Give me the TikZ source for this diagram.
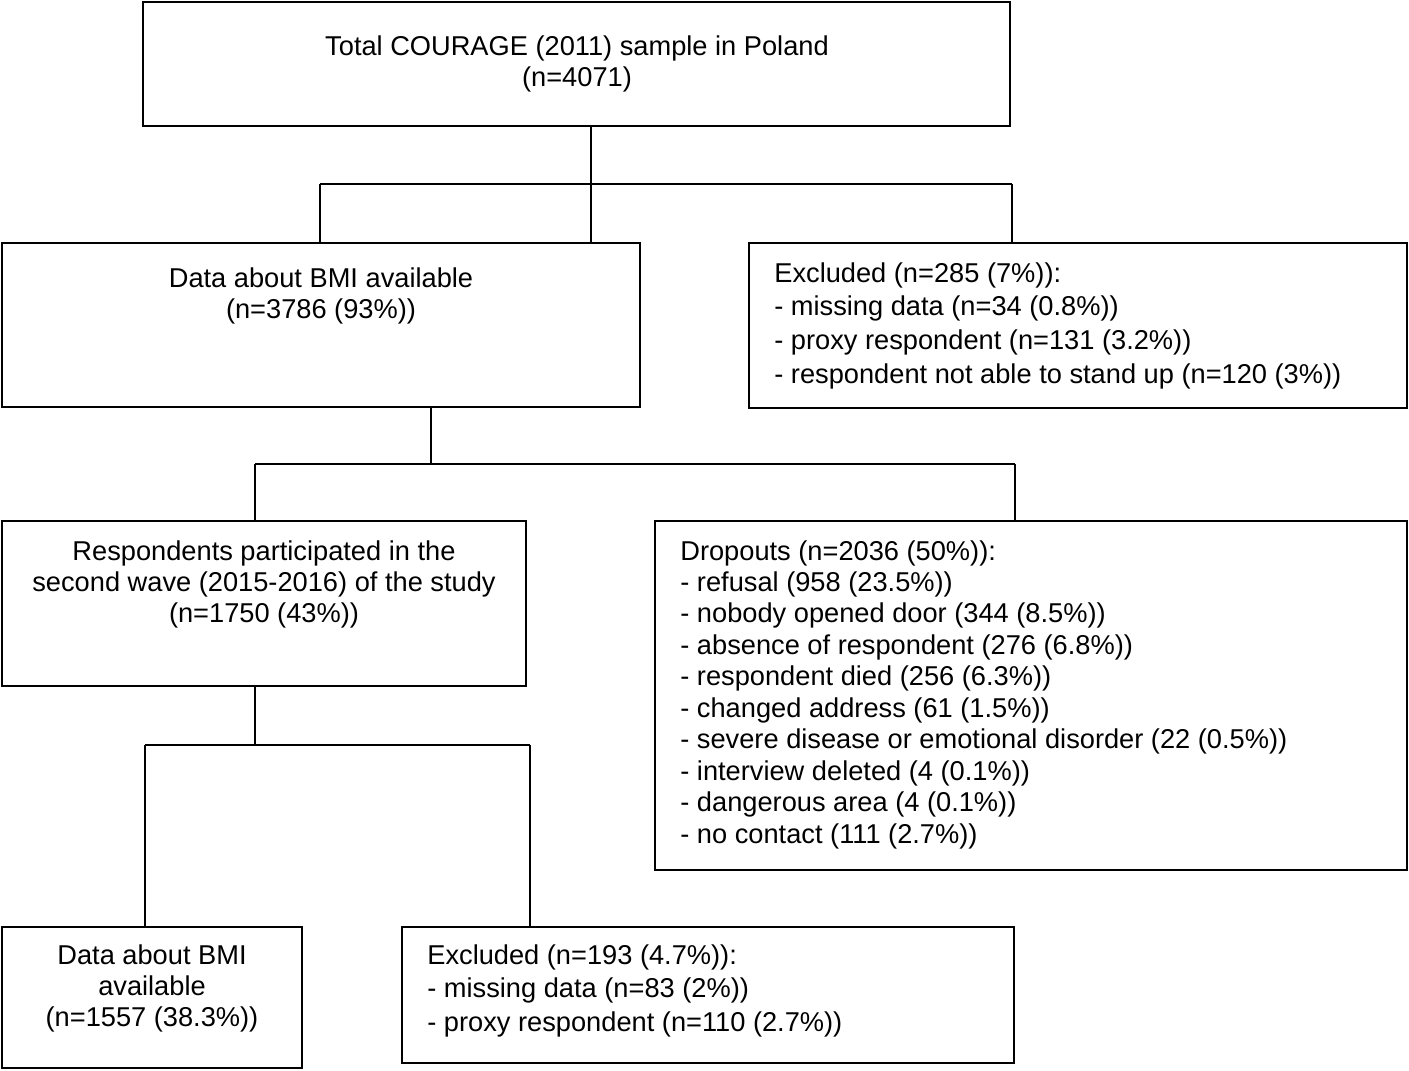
\documentclass[tikz,border=0pt]{standalone}
\usepackage{fontspec}
\setmainfont{Liberation Sans}
\usetikzlibrary{fit}
\begin{document}
\begin{tikzpicture}[x=0.02cm,y=-0.02cm]
\tikzset{
	box/.style={draw, line width=1.6pt, inner sep=0pt},
	txt/.style={inner sep=0pt, anchor=north, align=center,
		font=\fontsize{15.5}{17.9}\selectfont},
	ltxt/.style={txt, anchor=north west, align=left},
	link/.style={line width=1.6pt}
}
\useasboundingbox (0,0) rectangle (1409,1071);
% boxes
\node[box, fit={(143,2) (1010,126)}] (TOTAL) {};
\node[box, fit={(2,243) (640,407)}] (BMIA) {};
\node[box, fit={(749,243) (1407,408)}] (EXCLA) {};
\node[box, fit={(2,521) (526,686)}] (WAVE) {};
\node[box, fit={(655,521) (1407,870)}] (DROP) {};
\node[box, fit={(2,927) (302,1068)}] (BMIB) {};
\node[box, fit={(402,927) (1014,1063)}] (EXCLB) {};
% texts
\node[txt] (TOTALLBL) at (577,35) {Total COURAGE (2011) sample in Poland\\(n=4071)};
\node[txt] (BMIALBL) at (321,267) {Data about BMI available\\(n=3786 (93\%))};
\node[ltxt] (EXCLALBL) at (774,262) {Excluded (n=285 (7\%)):\\[1.3pt]- missing data (n=34 (0.8\%))\\[1.3pt]- proxy respondent (n=131 (3.2\%))\\[1.3pt]- respondent not able to stand up (n=120 (3\%))};
\node[txt] (WAVELBL) at (264,540) {Respondents participated in the\\second wave (2015-2016) of the study\\(n=1750 (43\%))};
\node[ltxt] (DROPLBL) at (680,540) {Dropouts (n=2036 (50\%)):\\- refusal (958 (23.5\%))\\- nobody opened door (344 (8.5\%))\\- absence of respondent (276 (6.8\%))\\- respondent died (256 (6.3\%))\\- changed address (61 (1.5\%))\\- severe disease or emotional disorder (22 (0.5\%))\\- interview deleted (4 (0.1\%))\\- dangerous area (4 (0.1\%))\\- no contact (111 (2.7\%))};
\node[txt] (BMIBLBL) at (152,944) {Data about BMI\\available\\(n=1557 (38.3\%))};
\node[ltxt] (EXCLBLBL) at (427,944) {Excluded (n=193 (4.7\%)):\\[1.3pt]- missing data (n=83 (2\%))\\[1.3pt]- proxy respondent (n=110 (2.7\%))};
% junctions
\coordinate (J1) at (591,184);
\coordinate (J1L) at (320,184);
\coordinate (J1R) at (1012,184);
\coordinate (J2) at (431,464);
\coordinate (J2L) at (255,464);
\coordinate (J2R) at (1015,464);
\coordinate (J3) at (255,745);
\coordinate (J3L) at (145,745);
\coordinate (J3R) at (530,745);
% connectors
\draw[link] (TOTAL.south -| J1) -- (J1 |- BMIA.north);
\draw[link] (J1L) -- (J1R);
\draw[link] (J1L) -- (J1L |- BMIA.north);
\draw[link] (J1R) -- (J1R |- EXCLA.north);
\draw[link] (BMIA.south -| J2) -- (J2);
\draw[link] (J2L) -- (J2R);
\draw[link] (J2L) -- (J2L |- WAVE.north);
\draw[link] (J2R) -- (J2R |- DROP.north);
\draw[link] (WAVE.south -| J3) -- (J3);
\draw[link] (J3L) -- (J3R);
\draw[link] (J3L) -- (J3L |- BMIB.north);
\draw[link] (J3R) -- (J3R |- EXCLB.north);
\end{tikzpicture}
\end{document}
